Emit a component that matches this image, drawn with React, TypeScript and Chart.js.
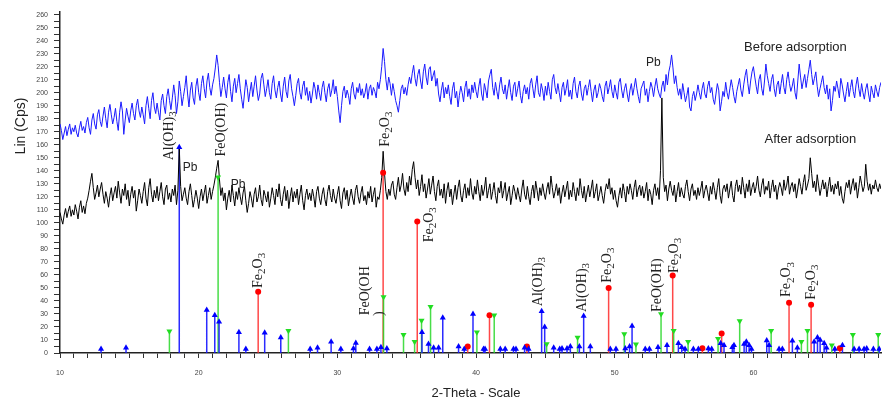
import { useEffect, useRef } from 'react';
import { Chart, registerables } from 'chart.js';

Chart.register(...registerables);

// 2-theta grid of the scans (start, step in degrees)
const SCAN_START = 10;
const SCAN_STEP = 0.1;

// Before adsorption (blue), Lin (Cps), one row per degree
const beforeCps = [
  176,171,164,169,174,167,172,176,168,173,
  170,175,169,166,173,178,171,174,169,177,
  181,173,168,179,184,176,172,183,187,178,
  174,182,189,180,173,185,191,183,176,181,
  188,178,171,185,193,186,168,179,188,182,
  177,186,192,184,179,190,195,186,181,189,
  183,176,190,197,188,180,194,200,189,184,
  192,185,179,194,199,190,184,197,203,194,
  187,196,206,198,184,193,209,201,190,197,
  204,213,199,189,202,208,196,191,205,211,
  200,194,207,213,203,196,209,215,204,198,
  206,211,219,229,221,208,197,204,212,203,
  196,208,214,201,193,205,211,200,207,214,
  203,195,188,199,210,204,193,201,208,197,
  205,213,202,194,199,211,215,206,197,203,
  210,200,195,207,213,202,196,204,209,199,
  193,205,212,201,196,209,214,203,197,190,
  198,207,211,200,195,205,209,198,204,194,
  201,192,199,208,203,195,206,200,194,204,
  209,200,193,203,207,197,202,210,199,205,
  197,186,177,190,201,205,196,202,198,191,
  203,208,199,195,204,200,207,198,203,196,
  200,207,195,203,206,198,204,201,196,208,
  203,210,220,234,224,210,202,212,207,198,
  207,201,194,190,185,194,203,206,199,204,
  198,206,212,207,215,221,211,205,214,218,
  209,203,216,222,212,206,218,220,209,213,
  217,205,211,199,193,202,208,196,204,199,
  206,197,191,203,208,196,201,189,198,205,
  200,193,204,209,197,203,195,206,200,208,
  201,196,205,211,199,194,207,202,196,209,
  214,218,204,198,208,201,195,206,212,203,
  199,206,195,203,210,200,194,205,208,197,
  203,209,198,192,201,206,199,204,195,207,
  211,203,196,206,213,200,197,207,202,194,
  205,198,208,201,195,210,214,204,199,207,
  200,193,204,208,198,203,210,197,202,195,
  207,212,201,196,205,209,199,194,203,206,
  198,204,210,201,193,202,206,196,200,207,
  203,197,193,205,209,199,204,210,201,196,
  206,200,195,208,211,202,196,203,207,199,
  193,202,207,198,204,211,203,197,192,203,
  206,209,198,203,193,201,208,204,197,205,
  211,203,199,196,205,209,201,214,206,216,
  221,229,219,207,213,204,198,203,195,207,
  200,193,198,204,189,186,197,201,194,199,
  206,200,195,203,208,199,196,205,209,200,
  204,195,191,199,207,202,186,193,201,197,
  208,200,195,203,210,204,197,192,201,206,
  211,202,197,206,213,218,207,199,209,216,
  220,212,205,199,210,214,203,198,209,222,
  213,207,201,210,214,203,197,206,209,199,
  207,214,204,199,210,216,207,201,205,211,
  200,195,209,222,212,203,209,214,204,211,
  218,225,214,206,211,216,205,197,203,208,
  213,204,199,206,195,203,186,194,205,201,
  209,203,196,211,206,199,193,201,208,197,
  204,210,201,196,206,212,203,197,207,200,
  195,203,207,199,193,205,200,196,206,201,
  197,204,208,
];

// After adsorption (black), Lin (Cps), one row per degree
const afterCps = [
  108,103,99,106,111,104,109,113,105,110,
  106,114,109,103,112,117,108,113,107,115,
  119,125,132,138,127,118,123,129,120,126,
  131,122,115,124,119,112,121,127,117,123,
  128,119,132,123,115,126,121,130,118,125,
  113,122,128,119,125,109,117,126,121,115,
  124,131,119,113,127,134,122,116,125,119,
  128,117,124,131,120,114,126,129,118,123,
  116,126,121,129,114,125,158,128,117,122,
  127,119,114,124,130,121,112,118,125,119,
  111,120,126,117,123,129,115,121,127,118,
  124,129,135,142,148,133,121,127,117,123,
  110,119,125,116,129,121,113,124,118,127,
  120,114,123,128,117,108,115,124,119,112,
  122,127,116,120,129,118,113,125,121,116,
  124,112,119,127,121,114,126,120,130,118,
  113,122,128,117,125,111,120,127,116,124,
  119,126,114,122,129,117,110,121,126,118,
  123,117,126,120,112,124,128,119,114,122,
  127,118,113,124,129,121,116,126,119,115,
  122,128,117,111,123,127,118,125,113,120,
  126,119,114,125,129,120,115,123,128,117,
  121,114,124,119,128,116,122,127,112,120,
  118,125,135,155,138,124,118,126,121,129,
  132,122,118,127,135,124,129,138,126,121,
  131,124,136,129,141,147,135,126,133,121,
  128,137,124,130,119,126,134,122,129,136,
  124,117,128,133,121,126,119,130,115,125,
  131,120,126,114,122,129,118,127,133,121,
  116,125,130,119,127,121,134,123,118,128,
  122,133,124,117,129,121,126,135,119,125,
  130,118,124,131,121,115,127,123,132,119,
  125,131,117,123,128,114,121,129,124,118,
  127,121,116,126,133,122,118,128,120,114,
  124,129,119,132,125,117,127,121,130,123,
  118,126,131,122,136,127,119,124,130,121,
  127,115,123,129,120,126,132,118,125,120,
  131,124,117,127,121,134,125,119,128,116,
  123,129,120,126,133,119,124,130,117,122,
  128,121,115,124,130,126,134,122,127,118,
  125,117,112,121,127,119,130,124,116,128,
  122,130,125,118,127,133,120,126,129,121,
  128,119,124,131,117,126,122,114,125,130,
  121,127,118,140,196,135,124,129,117,126,
  132,125,121,129,116,124,131,120,127,122,
  119,128,133,124,117,126,130,121,125,118,
  127,121,126,132,119,125,129,123,117,128,
  122,131,125,118,127,134,121,115,126,129,
  124,130,119,126,132,121,116,128,133,124,
  129,122,135,127,119,130,124,133,121,127,
  131,123,128,136,125,120,129,134,122,128,
  125,132,119,127,133,124,129,118,126,131,
  127,121,133,125,129,136,122,128,131,124,
  130,119,126,134,128,122,131,137,125,129,
  134,150,138,127,132,124,137,129,121,127,
  133,126,131,120,128,135,124,129,122,130,
  126,132,121,128,119,115,124,131,127,133,
  122,129,134,125,131,119,127,136,130,124,
  128,145,132,125,130,122,129,126,133,127,
  124,130,126,
];

// Reference pattern: Al(OH)3 (blue, triangle up)
const alohPos = [
  12.96,14.76,18.6,20.58,21.16,21.47,22.9,23.4,24.76,25.92,
  28.04,28.57,29.55,30.25,31.16,31.33,32.32,32.85,33.14,33.57,
  36.1,36.57,36.94,37.3,37.6,38.74,39.15,39.78,40.54,40.65,
  41.75,42.1,42.7,42.88,43.5,43.79,44.73,44.95,45.6,46.03,
  46.2,46.56,46.8,47.45,47.76,48.24,49.68,50.09,50.76,51.07,
  51.25,52.2,52.5,53.12,53.77,54.59,54.83,55.07,55.67,56.03,
  56.75,56.99,57.64,57.88,58.48,58.6,59.33,59.49,59.69,59.86,
  60.96,61.13,61.85,62.09,62.81,63.17,64.38,64.62,64.81,65.1,
  65.27,65.87,66.42,67.26,67.62,67.98,68.17,68.65,69.07,
];
const alohInt = [
  3,4,158,33,29,24,16,3,15.6,12,
  3,4,8.7,3,3.5,7.7,3,3,4.5,3.5,
  16,7,4,4,27,5,3,30,3,3,
  3,3,3,3,4,3,32,20,4,3,
  3.5,3.5,5,5,28.5,5,3,3,3.5,5,
  20.8,3,3,4.5,6,7.5,4.5,3,3,3,
  3.5,3,7.5,6,4.5,6,7,8.7,6,3,
  9.6,6,3,3,9.5,4,8.7,12,10,7.5,
  4,3,6,3,3,3,3.5,3,3,
];

// FeO(OH) (green, triangle down)
const feoohPos = [17.89,21.4,26.47,33.33,34.77,35.57,36.07,36.72,40.06,41.31,45.09,47.32,50.69,51.53,53.34,54.25,55.29,57.45,59.01,61.28,63.46,63.9,65.65,67.17,69.0];
const feoohInt = [16.7,135,17,43,14,8.7,25,35.6,16,29,7,12,14.6,6.7,30,17,8.7,11,24.6,17,8.7,17,6,14,14];

// Fe2O3 (red, circle)
const fe2o3Pos = [24.29,33.3,35.76,39.4,40.97,43.67,49.56,54.18,56.32,57.71,62.57,64.16,66.23];
const fe2o3Int = [47,138.5,101,5,29,5,50,59.5,3.6,15,38.7,37,3.6];

// Axis ranges
const X_MIN = 10;
const X_MAX = 69.2;
const Y_MIN = 0;
const Y_MAX = 262;

type Part = [string, boolean];
const F = (s: string): Part => [s, false];
const S = (s: string): Part => [s, true];
const ALOH: Part[] = [F('Al(OH)'), S('3')];
const FEOOH: Part[] = [F('FeO(OH)')];
const FE2O3: Part[] = [F('Fe'), S('2'), F('O'), S('3')];

// Phase labels (rotated, serif): text, 2θ, Cps at text start
const phaseLabels: { parts: Part[]; x: number; y: number }[] = [
  { parts: ALOH, x: 17.86, y: 148 },
  { parts: FEOOH, x: 21.62, y: 151 },
  { parts: FE2O3, x: 24.29, y: 50 },
  { parts: [F('FeO(OH')], x: 32.0, y: 29 },
  { parts: [F(')')], x: 33.02, y: 28.5 },
  { parts: FE2O3, x: 33.45, y: 158.5 },
  { parts: FE2O3, x: 36.62, y: 85 },
  { parts: ALOH, x: 44.49, y: 36 },
  { parts: ALOH, x: 47.66, y: 31.5 },
  { parts: FE2O3, x: 49.47, y: 54 },
  { parts: FEOOH, x: 53.07, y: 31.5 },
  { parts: FE2O3, x: 54.3, y: 61.5 },
  { parts: FE2O3, x: 62.38, y: 43 },
  { parts: FE2O3, x: 64.18, y: 41 },
];

// Plain labels (sans-serif)
const textLabels: { text: string; x: number; y: number; size: number }[] = [
  { text: 'Pb', x: 19.38, y: 142, size: 12 },
  { text: 'Pb', x: 22.84, y: 129, size: 12 },
  { text: 'Pb', x: 52.78, y: 223, size: 12 },
  { text: 'Before adsorption', x: 63.03, y: 235, size: 13 },
  { text: 'After adsorption', x: 64.11, y: 164, size: 13 },
];

const scan = (vals: number[]) =>
  vals.map((v, i) => ({ x: +(SCAN_START + i * SCAN_STEP).toFixed(2), y: v }));

const sticks = (pos: number[], ints: number[]) => {
  const out: { x: number; y: number | null }[] = [];
  pos.forEach((p, i) => {
    out.push({ x: p, y: 0 }, { x: p, y: ints[i] }, { x: p, y: null });
  });
  return out;
};

const tops = (pos: number[], ints: number[]) => pos.map((p, i) => ({ x: p, y: ints[i] }));

const SERIF = '"Liberation Serif", "Times New Roman", serif';
const SANS = '"Liberation Sans", Arial, sans-serif';

function drawRich(ctx: CanvasRenderingContext2D, parts: Part[], x: number, y: number, size: number) {
  ctx.save();
  ctx.translate(x, y);
  ctx.rotate(-Math.PI / 2);
  ctx.textAlign = 'left';
  ctx.textBaseline = 'middle';
  let cx = 0;
  for (const [t, sub] of parts) {
    ctx.font = `${sub ? Math.round(size * 0.75) : size}px ${SERIF}`;
    ctx.fillText(t, cx, sub ? size * 0.3 : 0);
    cx += ctx.measureText(t).width;
  }
  ctx.restore();
}

// Pin the plot area so 10° sits at x=60 and the axis runs to the right edge
const areaPlugin = {
  id: 'area',
  afterLayout(chart: any) {
    const a = chart.chartArea;
    if (Math.abs(a.right - 881) > 0.5) {
      const xs = chart.scales.x;
      xs.right = 881;
      xs.width = xs.right - xs.left;
      a.right = 881;
      a.width = a.right - a.left;
      xs.configure();
    }
  },
};

const labelPlugin = {
  id: 'labels',
  afterDraw(chart: any) {
    const ctx: CanvasRenderingContext2D = chart.ctx;
    const xs = chart.scales.x;
    const ys = chart.scales.y;
    ctx.save();
    ctx.fillStyle = '#222';
    for (const l of phaseLabels) {
      drawRich(ctx, l.parts, xs.getPixelForValue(l.x), ys.getPixelForValue(l.y), 14);
    }
    ctx.textAlign = 'center';
    ctx.textBaseline = 'middle';
    for (const t of textLabels) {
      ctx.font = `${t.size}px ${SANS}`;
      ctx.fillText(t.text, xs.getPixelForValue(t.x), ys.getPixelForValue(t.y));
    }
    // axis titles
    ctx.font = `13px ${SANS}`;
    ctx.fillText('2-Theta - Scale', 476, 393);
    ctx.save();
    ctx.translate(21, 126);
    ctx.rotate(-Math.PI / 2);
    ctx.font = `14px ${SANS}`;
    ctx.fillText('Lin (Cps)', 0, 0);
    ctx.restore();
    ctx.restore();
  },
};

export default function App() {
  const ref = useRef<HTMLCanvasElement>(null);
  useEffect(() => {
    const chart = new Chart(ref.current!, {
      type: 'line',
      data: {
        datasets: [
          {
            label: 'Al(OH)3 markers',
            data: tops(alohPos, alohInt),
            showLine: false,
            pointStyle: 'triangle',
            pointRadius: 3.5,
            backgroundColor: '#0000ff',
            borderColor: '#0000ff',
            borderWidth: 0,
            order: 0,
          },
          {
            label: 'FeO(OH) markers',
            data: tops(feoohPos, feoohInt),
            showLine: false,
            pointStyle: 'triangle',
            rotation: 180,
            pointRadius: 3.5,
            backgroundColor: '#22dd22',
            borderColor: '#22dd22',
            borderWidth: 0,
            order: 0,
          },
          {
            label: 'Fe2O3 markers',
            data: tops(fe2o3Pos, fe2o3Int),
            showLine: false,
            pointStyle: 'circle',
            pointRadius: 3,
            backgroundColor: '#ff0000',
            borderColor: '#ff0000',
            borderWidth: 0,
            order: 0,
          },
          {
            label: 'Before adsorption',
            data: scan(beforeCps),
            borderColor: '#1a1aff',
            borderWidth: 1,
            pointRadius: 0,
            tension: 0,
            order: 1,
          },
          {
            label: 'After adsorption',
            data: scan(afterCps),
            borderColor: '#000000',
            borderWidth: 1,
            pointRadius: 0,
            tension: 0,
            order: 1,
          },
          {
            label: 'Al(OH)3',
            data: sticks(alohPos, alohInt),
            borderColor: 'rgba(20,20,255,0.9)',
            borderWidth: 1.5,
            pointRadius: 0,
            spanGaps: false,
            order: 2,
          },
          {
            label: 'FeO(OH)',
            data: sticks(feoohPos, feoohInt),
            borderColor: 'rgba(40,215,40,0.85)',
            borderWidth: 1.5,
            pointRadius: 0,
            spanGaps: false,
            order: 2,
          },
          {
            label: 'Fe2O3',
            data: sticks(fe2o3Pos, fe2o3Int),
            borderColor: 'rgba(255,40,40,0.85)',
            borderWidth: 1.5,
            pointRadius: 0,
            spanGaps: false,
            order: 2,
          },
        ],
      },
      options: {
        responsive: false,
        animation: false,
        devicePixelRatio: 1,
        layout: { padding: { top: 12, right: 1, left: 0, bottom: 0 } },
        plugins: { legend: { display: false }, tooltip: { enabled: false } },
        scales: {
          x: {
            type: 'linear',
            min: X_MIN,
            max: X_MAX,
            afterFit: (s: any) => { s.height = 50; s.paddingRight = 0; },
            border: { display: true, color: '#222', width: 1.5 },
            grid: { drawOnChartArea: false, drawTicks: true, tickLength: 5, color: '#333' },
            ticks: {
              stepSize: 1,
              autoSkip: false,
              maxRotation: 0,
              includeBounds: false,
              padding: 11,
              color: '#444',
              font: { size: 7, family: SANS },
              callback: (v: any) => (Number(v) % 10 === 0 ? String(v) : ''),
            },
          },
          y: {
            type: 'linear',
            min: Y_MIN,
            max: Y_MAX,
            afterFit: (s: any) => { s.width = 60; },
            border: { display: true, color: '#222', width: 1.5 },
            grid: { drawOnChartArea: false, drawTicks: true, tickLength: 6, color: '#333' },
            ticks: {
              stepSize: 5,
              autoSkip: false,
              includeBounds: false,
              padding: 6,
              color: '#444',
              font: { size: 7, family: SANS },
              callback: (v: any) => (Number(v) % 10 === 0 ? String(v) : ''),
            },
          },
        },
      } as any,
      plugins: [areaPlugin, labelPlugin],
    });
    return () => chart.destroy();
  }, []);
  return (
    <div style={{ position: 'absolute', left: 0, top: 0, width: 882, height: 403, background: '#fff' }}>
      <canvas ref={ref} width={882} height={403} style={{ display: 'block', width: 882, height: 403 }} />
    </div>
  );
}
